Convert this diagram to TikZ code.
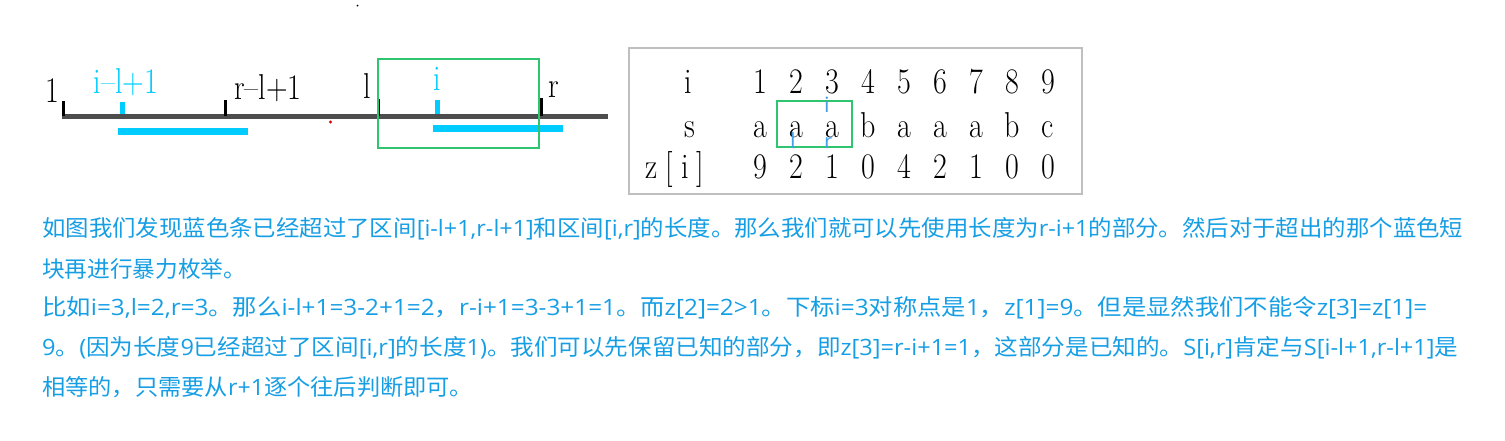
\documentclass[tikz,border=0pt]{standalone}
\usepackage{fontspec}
\usepackage{graphicx}
\newfontfamily\cjk{Noto Sans CJK SC}
\newfontfamily\latf{Open Sans}
\newcommand\lt[1]{{\latf #1}}
\newcommand\pline[2]{\resizebox{#1}{\height}{#2}}
\definecolor{txtblue}{RGB}{22,158,228}
\definecolor{barcyan}{RGB}{0,204,255}
\definecolor{boxgreen}{RGB}{46,196,112}
\definecolor{axisgray}{RGB}{77,77,77}
\definecolor{framegray}{RGB}{191,191,191}
\definecolor{markblue}{RGB}{70,160,230}
\newcommand\tallx[1]{\scalebox{1}[1.2]{#1}}
\begin{document}
\begin{tikzpicture}[x=1pt,y=-1pt,
  lbl/.style={inner sep=0pt, anchor=base, font=\fontsize{30}{30}\selectfont},
  para/.style={inner sep=0pt, anchor=west, text=txtblue, font=\cjk\fontsize{22.5}{22.5}\selectfont},
  blmark/.style={inner sep=0pt, anchor=base, text=markblue, font=\cjk\fontsize{20}{20}\selectfont},
  tickk/.style={line width=3pt, black},
  btick/.style={line width=4.5pt, barcyan},
  bar/.style={line width=6.5pt, barcyan},
  gbox/.style={draw=boxgreen, line width=1.6pt}]
\useasboundingbox (0,0) rectangle (1505,440);
% stray dots
\fill[black] (357.5,5.5) circle (1pt);
\fill[red!85!black] (330.5,122) circle (1.7pt);
% axis
\coordinate (a0) at (62,116.5);
\coordinate (a1) at (608,116.5);
\draw[line width=5pt, axisgray] (a0) -- (a1);
% ticks
\coordinate (t1a) at (63.5,101); \coordinate (t1b) at (63.5,116);
\coordinate (t2a) at (225.5,100); \coordinate (t2b) at (225.5,116);
\coordinate (t3a) at (378.7,99); \coordinate (t3b) at (378.7,116);
\coordinate (t4a) at (541,98); \coordinate (t4b) at (541,116);
\draw[tickk] (t1a) -- (t1b);
\draw[tickk] (t2a) -- (t2b);
\draw[tickk] (t3a) -- (t3b);
\draw[tickk] (t4a) -- (t4b);
\coordinate (b1a) at (122.5,102); \coordinate (b1b) at (122.5,114);
\coordinate (b2a) at (437.5,100); \coordinate (b2b) at (437.5,114);
\draw[btick] (b1a) -- (b1b);
\draw[btick] (b2a) -- (b2b);
% bars
\coordinate (r1a) at (118,131.5); \coordinate (r1b) at (248,131.5);
\coordinate (r2a) at (433,128.5); \coordinate (r2b) at (563,128.5);
\draw[bar] (r1a) -- (r1b);
\draw[bar] (r2a) -- (r2b);
% green window
\draw[gbox] (377.7,59) rectangle (539,147.7);
% labels
\node[lbl] (l1) at (52.5,102) {\tallx{1}};
\node[lbl, text=barcyan] (lil) at (126,93) {\tallx{i--l+1}};
\node[lbl] (lrl) at (268,99) {\tallx{r--l+1}};
\node[lbl] (ll) at (367.5,98) {\tallx{l}};
\node[lbl, text=barcyan] (li) at (437.5,90) {\tallx{i}};
\node[lbl] (lr) at (553.5,97) {\tallx{r}};
% table frame
\draw[framegray, line width=2pt] (629,48) rectangle (1082,194);
\node[lbl] (hi) at (688,93) {\tallx{i}};
\node[lbl] (hs) at (690,137) {\tallx{s}};
\node[lbl] (hz) at (675,178) {\tallx{z\hspace{8pt}[\hspace{8pt}i\hspace{8pt}]}};
\foreach \k/\d/\c/\z in {0/1/a/9,1/2/a/2,2/3/a/1,3/4/b/0,4/5/a/4,5/6/a/2,6/7/a/1,7/8/b/0,8/9/c/0}{
  \node[lbl] (n\k) at (760+36*\k,93) {\tallx{\d}};
  \node[lbl] (s\k) at (760+36*\k,137) {\tallx{\c}};
  \node[lbl] (z\k) at (760+36*\k,178) {\tallx{\z}};
}
\draw[gbox, line width=2pt] (776.7,100.7) rectangle (851.7,147.3);
\node[blmark] (mi) at (827.5,112) {i};
\node[blmark] (ml) at (793,148) {l};
\node[blmark] (mr) at (828.5,148) {r};
% paragraph
\node[para] (p1) at (42,228.5) {\pline{1421pt}{如图我们发现蓝色条已经超过了区间\lt{[i-l+1,r-l+1]}和区间\lt{[i,r]}的长度。那么我们就可以先使用长度为\lt{r-i+1}的部分。然后对于超出的那个蓝色短}};
\node[para] (p2) at (42,268.5) {\pline{204pt}{块再进行暴力枚举。}};
\node[para] (p3) at (42,308) {\pline{1385pt}{比如\lt{i=3,l=2,r=3}。那么\lt{i-l+1=3-2+1=2}，\lt{r-i+1=3-3+1=1}。而\lt{z[2]=2>1}。下标\lt{i=3}对称点是\lt{1}，\lt{z[1]=9}。但是显然我们不能令\lt{z[3]=z[1]=}}};
\node[para] (p4) at (42,347.5) {\pline{1416pt}{\lt{9}。\lt{(}因为长度\lt{9}已经超过了区间\lt{[i,r]}的长度\lt{1)}。我们可以先保留已知的部分，即\lt{z[3]=r-i+1=1}，这部分是已知的。\lt{S[i,r]}肯定与\lt{S[i-l+1,r-l+1]}是}};
\node[para] (p5) at (42,387) {\pline{431pt}{相等的，只需要从\lt{r+1}逐个往后判断即可。}};
\end{tikzpicture}
\end{document}
